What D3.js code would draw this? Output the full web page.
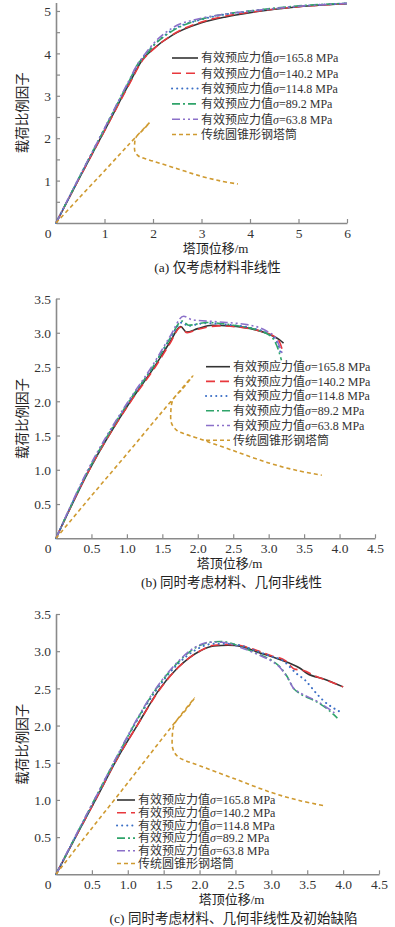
<!DOCTYPE html>
<html>
<head>
<meta charset="utf-8">
<script src="https://cdn.jsdelivr.net/npm/d3@7"></script>
<style>
  body { margin: 0; background: #fff; }
  svg { display: block; }
  .tick text { font-family: "Liberation Serif", "Noto Sans CJK SC", serif; font-size: 13.5px; fill: #333; }
</style>
</head>
<body>
<div id="main"></div>
<script>
// legend values
const sigmaValues = ['165.8', '140.2', '114.8', '89.2', '63.8'];
const tradName = '传统圆锥形钢塔筒';
const seriesColors = ['#333333', '#e8383d', '#3b6fc6', '#2fa46a', '#8b70c9', '#cf9a30'];
const seriesDash = ['none', '9,5', '2,5', '8,3,2,3', '8,3,2,3,2,3', '4,3'];

// traditional conical tower (same curve in all three panels)
const tradCurve = [[0,0],[0.5,0.62],[1.0,1.23],[1.5,1.85],[1.93,2.37],[1.8,2.2],[1.65,2.02],[1.62,1.85],[1.63,1.68],[1.7,1.58],[1.8,1.53],[2.0,1.46],[2.5,1.28],[3.0,1.1],[3.4,0.99],[3.75,0.92]];

// (a) material nonlinearity only
const aBlack = [[0,0],[0.5,1.1],[1.0,2.18],[1.5,3.27],[1.8,3.88],[2.0,4.1],[2.4,4.43],[3.0,4.72],[3.5,4.86],[4.0,4.96],[5.0,5.1],[6.0,5.17]];
const aRed = [[0,0],[0.5,1.1],[1.0,2.17],[1.5,3.25],[1.8,3.86],[2.0,4.09],[2.4,4.44],[3.0,4.74],[3.5,4.88],[4.0,4.97],[5.0,5.1],[6.0,5.17]];
const aBlue = [[0,0],[0.5,1.12],[1.0,2.22],[1.5,3.32],[1.75,3.84],[2.0,4.18],[2.4,4.55],[3.0,4.8],[3.5,4.92],[4.0,4.99],[5.0,5.11],[6.0,5.18]];
const aGreen = [[0,0],[0.5,1.12],[1.0,2.22],[1.5,3.33],[1.72,3.8],[1.78,3.86],[2.0,4.17],[2.4,4.53],[3.0,4.81],[3.5,4.93],[4.0,5.0],[5.0,5.12],[6.0,5.18]];
const aPurple = [[0,0],[0.5,1.13],[1.0,2.23],[1.5,3.35],[1.7,3.78],[1.78,3.9],[2.0,4.22],[2.4,4.6],[3.0,4.83],[3.5,4.93],[4.0,5.0],[5.0,5.11],[6.0,5.18]];

// (b) material + geometric nonlinearity
const bBlack = [[0,0],[0.47,1.0],[1.05,2.0],[1.4,2.52],[1.6,2.85],[1.76,3.09],[1.84,3.01],[2.0,3.06],[2.2,3.11],[2.45,3.1],[2.75,3.06],[3.0,2.98],[3.15,2.9],[3.21,2.85]];
const bRed = [[0,0],[0.47,1.0],[1.05,1.99],[1.4,2.5],[1.6,2.83],[1.76,3.08],[1.85,3.0],[2.0,3.05],[2.3,3.1],[2.6,3.08],[2.9,3.02],[3.1,2.93],[3.16,2.85],[3.19,2.76]];
const bBlue = [[0,0],[0.46,1.0],[1.03,2.0],[1.38,2.52],[1.6,2.9],[1.78,3.15],[1.86,3.1],[2.1,3.14],[2.4,3.12],[2.75,3.07],[3.0,2.98],[3.12,2.86],[3.18,2.66]];
const bGreen = [[0,0],[0.46,1.0],[1.03,2.0],[1.38,2.52],[1.6,2.9],[1.78,3.17],[1.87,3.11],[2.13,3.15],[2.5,3.11],[2.8,3.05],[3.03,2.95],[3.14,2.74],[3.18,2.6]];
const bPurple = [[0,0],[0.45,1.0],[1.02,2.0],[1.36,2.52],[1.6,2.93],[1.8,3.24],[1.92,3.19],[2.27,3.16],[2.74,3.11],[2.98,3.02],[3.1,2.92],[3.19,2.7]];

// (c) material + geometric nonlinearity + initial imperfection
const cBlack = [[0,0],[0.3,0.55],[0.55,1.0],[0.85,1.55],[1.13,2.0],[1.45,2.5],[1.7,2.78],[2.0,3.0],[2.2,3.07],[2.4,3.08],[2.6,3.06],[2.8,2.99],[3.0,2.93],[3.25,2.84],[3.4,2.77],[3.5,2.7],[3.75,2.62],[4.0,2.52]];
const cRed = [[0,0],[0.3,0.55],[0.55,1.0],[0.85,1.55],[1.13,2.0],[1.45,2.49],[1.7,2.78],[2.0,3.0],[2.2,3.08],[2.4,3.09],[2.6,3.07],[2.8,3.01],[3.0,2.94],[3.2,2.87],[3.25,2.82],[3.32,2.76],[3.45,2.74],[3.6,2.67],[3.85,2.58],[4.0,2.52]];
const cBlue = [[0,0],[0.3,0.56],[0.55,1.02],[0.85,1.57],[1.1,2.02],[1.4,2.48],[1.7,2.83],[1.95,3.02],[2.2,3.1],[2.4,3.1],[2.6,3.07],[2.8,3.0],[3.0,2.93],[3.15,2.88],[3.35,2.7],[3.47,2.61],[3.63,2.43],[3.72,2.34],[3.95,2.19]];
const cGreen = [[0,0],[0.3,0.56],[0.55,1.03],[0.85,1.58],[1.1,2.03],[1.4,2.5],[1.7,2.85],[1.95,3.05],[2.15,3.12],[2.3,3.13],[2.57,3.06],[2.8,2.97],[3.03,2.86],[3.12,2.79],[3.22,2.66],[3.31,2.5],[3.4,2.43],[3.63,2.32],[3.77,2.23],[3.92,2.1]];
const cPurple = [[0,0],[0.3,0.57],[0.55,1.03],[0.85,1.59],[1.1,2.04],[1.4,2.51],[1.7,2.86],[1.95,3.06],[2.15,3.12],[2.3,3.12],[2.57,3.05],[2.8,2.96],[3.03,2.85],[3.12,2.78],[3.22,2.65],[3.31,2.5],[3.4,2.44],[3.63,2.33],[3.88,2.17]];

// tick values
const aXTicks = [1, 2, 3, 4, 5, 6];
const aYTicks = [0.5, 1, 1.5, 2, 2.5, 3, 3.5, 4, 4.5, 5];
const bcXTicks = [0.5, 1.0, 1.5, 2.0, 2.5, 3.0, 3.5, 4.0, 4.5];
const bcYTicks = [0.5, 1.0, 1.5, 2.0, 2.5, 3.0, 3.5];

const xTitle = '塔顶位移/m';
const yTitle = '载荷比例因子';
const captions = ['(a) 仅考虑材料非线性', '(b) 同时考虑材料、几何非线性', '(c) 同时考虑材料、几何非线性及初始缺陷'];

const svg = d3.select('#main').append('svg').attr('width', 395).attr('height', 927);
const cjk = '"Liberation Serif", "Noto Sans CJK SC", serif';

function drawPanel(p) {
    const x = d3.scaleLinear().domain(p.xDomain).range(p.xRange);
    const y = d3.scaleLinear().domain(p.yDomain).range(p.yRange);
    const g = svg.append('g');

    const xAxis = g.append('g').attr('transform', `translate(0,${p.yRange[0]})`)
        .call(d3.axisBottom(x).tickValues(p.xTicks).tickSizeInner(-4).tickSizeOuter(0).tickPadding(5).tickFormat(p.xFmt));
    const yAxis = g.append('g').attr('transform', `translate(${p.xRange[0]},0)`)
        .call(d3.axisLeft(y).tickValues(p.yTicks).tickSizeInner(-4).tickSizeOuter(0).tickPadding(5)
            .tickFormat(d => p.yLabelled(d) ? p.yFmt(d) : ''));
    [xAxis, yAxis].forEach(a => {
        a.select('.domain').attr('stroke', '#8a8a8a').attr('stroke-width', 1.6);
        a.selectAll('.tick line').attr('stroke', '#8a8a8a').attr('stroke-width', 1.2);
    });
    yAxis.selectAll('.tick text').attr('dy', '0.35em');

    // corner zero
    g.append('text').attr('x', p.xRange[0] - 8).attr('y', p.yRange[0] + 15)
        .attr('text-anchor', 'middle').style('font-family', cjk).style('font-size', '13.5px').style('fill', '#333').text('0');

    const line = d3.line().x(d => x(d[0])).y(d => y(d[1])).curve(d3.curveMonotoneX);
    const lineTrad = d3.line().x(d => x(d[0])).y(d => y(d[1])).curve(d3.curveCatmullRom.alpha(0.5));

    const series = p.series.concat([tradCurve]);
    g.selectAll('path.series').data(series).join('path').classed('series', true)
        .attr('d', (d, i) => i === 5 ? lineTrad(d) : line(d))
        .attr('fill', 'none')
        .attr('stroke', (d, i) => seriesColors[i])
        .attr('stroke-width', (d, i) => i === 2 ? 2 : 1.6)
        .attr('stroke-linecap', (d, i) => i === 2 ? 'round' : 'butt')
        .attr('stroke-dasharray', (d, i) => seriesDash[i] === 'none' ? null : (i === 2 ? '0.1,5' : seriesDash[i]));

    // legend
    const leg = g.append('g');
    const rows = leg.selectAll('g').data(d3.range(6)).join('g')
        .attr('transform', i => `translate(${p.legX},${p.legY + i * p.legStep})`);
    rows.append('line').attr('x1', 0).attr('x2', p.legLen).attr('y1', 0).attr('y2', 0)
        .attr('stroke', i => seriesColors[i])
        .attr('stroke-width', i => i === 2 ? 2 : 1.6)
        .attr('stroke-linecap', i => i === 2 ? 'round' : 'butt')
        .attr('stroke-dasharray', i => seriesDash[i] === 'none' ? null : (i === 2 ? '0.1,5' : seriesDash[i]));
    const txt = rows.append('text').attr('x', p.legLen + 3).attr('y', 0).attr('dy', '0.36em')
        .style('font-family', cjk).style('font-size', '12px').style('fill', '#333');
    txt.each(function(i) {
        const t = d3.select(this);
        if (i === 5) { t.text(tradName); return; }
        t.append('tspan').text('有效预应力值');
        t.append('tspan').style('font-style', 'italic').text('σ');
        t.append('tspan').text(`=${sigmaValues[i]} MPa`);
    });

    // titles
    const cx = (p.xRange[0] + p.xRange[1]) / 2 + 14;
    g.append('text').attr('x', cx).attr('y', p.yRange[0] + 30).attr('text-anchor', 'middle')
        .style('font-family', cjk).style('font-size', '13px').style('fill', '#222').text(xTitle);
    g.append('text').attr('x', cx + 2).attr('y', p.yRange[0] + 49).attr('text-anchor', 'middle')
        .style('font-family', cjk).style('font-size', '13.5px').style('fill', '#222').text(p.caption);
    const cy = (p.yRange[0] + p.yRange[1]) / 2;
    g.append('text').attr('transform', `translate(27,${cy}) rotate(-90)`).attr('text-anchor', 'middle')
        .style('font-family', cjk).style('font-size', '13.5px').style('fill', '#222').text(yTitle);
}

drawPanel({
    xDomain: [0, 6], xRange: [56, 347], yDomain: [0, 5.2], yRange: [223, 2.5],
    xTicks: aXTicks, yTicks: aYTicks, xFmt: d3.format('d'), yFmt: d3.format('d'),
    yLabelled: d => Number.isInteger(d),
    series: [aBlack, aRed, aBlue, aGreen, aPurple],
    legX: 172, legY: 58, legStep: 15.3, legLen: 26, caption: captions[0]
});
drawPanel({
    xDomain: [0, 4.5], xRange: [56, 375], yDomain: [0, 3.5], yRange: [538.3, 298.5],
    xTicks: bcXTicks, yTicks: bcYTicks, xFmt: d3.format('.1f'), yFmt: d3.format('.1f'),
    yLabelled: d => true,
    series: [bBlack, bRed, bBlue, bGreen, bPurple],
    legX: 206, legY: 366.7, legStep: 14.7, legLen: 24, caption: captions[1]
});
drawPanel({
    xDomain: [0, 4.5], xRange: [56, 379], yDomain: [0, 3.5], yRange: [874.3, 614],
    xTicks: bcXTicks, yTicks: bcYTicks, xFmt: d3.format('.1f'), yFmt: d3.format('.1f'),
    yLabelled: d => true,
    series: [cBlack, cRed, cBlue, cGreen, cPurple],
    legX: 117, legY: 800, legStep: 12.7, legLen: 18, caption: captions[2]
});
</script>
</body>
</html>
